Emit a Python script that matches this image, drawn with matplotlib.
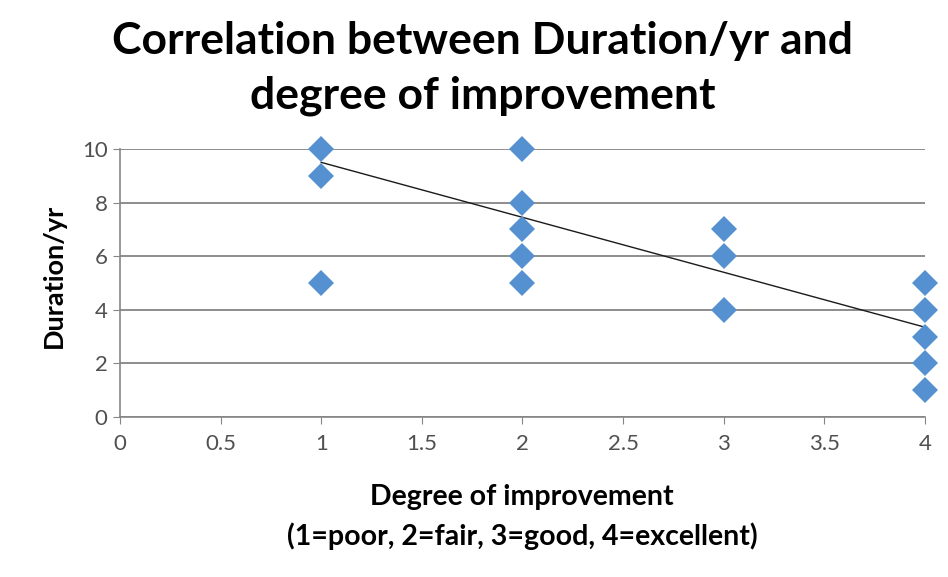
import matplotlib
matplotlib.use("Agg")
import matplotlib.pyplot as plt

# Data
degree = [1, 1, 1, 2, 2, 2, 2, 2, 3, 3, 3, 4, 4, 4, 4, 4]
duration = [10, 9, 5, 10, 8, 7, 6, 5, 7, 6, 4, 5, 4, 3, 2, 1]
trend_x = [1, 4]
trend_y = [9.5, 3.35]
x_ticks = [0, 0.5, 1, 1.5, 2, 2.5, 3, 3.5, 4]
x_tick_labels = ["0", "0.5", "1", "1.5", "2", "2.5", "3", "3.5", "4"]
y_ticks = [0, 2, 4, 6, 8, 10]

title = "Correlation between Duration/yr and\ndegree of improvement"
x_label = "Degree of improvement\n(1=poor, 2=fair, 3=good, 4=excellent)"
y_label = "Duration/yr"

plt.rcParams['font.family'] = ['Lato', 'DejaVu Sans']

fig = plt.figure(figsize=(9.48, 5.77), dpi=100)
ax = fig.add_axes([0.1266, 0.2773, 0.8491, 0.4645])

ax.set_xlim(0, 4)
ax.set_ylim(0, 10)
ax.set_xticks(x_ticks)
ax.set_xticklabels(x_tick_labels)
ax.set_yticks(y_ticks)

ax.grid(axis='y', color='#7a7a7a', linewidth=1.2)
ax.set_axisbelow(True)
for s in ['top', 'right']:
    ax.spines[s].set_visible(False)
for s in ['left', 'bottom']:
    ax.spines[s].set_color('#868686')
    ax.spines[s].set_linewidth(1.2)
ax.tick_params(axis='both', direction='out', length=5, color='#868686',
               labelsize=16, labelcolor='#505050')
ax.tick_params(axis='x', pad=7)
ax.tick_params(axis='y', pad=4)

ax.plot(trend_x, trend_y, color='#1a1a1a', linewidth=1.0, zorder=3)
ax.plot(degree, duration, linestyle='none', marker='D', markersize=13,
        color='#5590d0', markeredgewidth=0, zorder=4, clip_on=False)

fig.text(0.509, 0.881, title, ha='center', va='center', fontsize=32,
         fontweight='bold', linespacing=1.42, color='black')
fig.text(0.5507, 0.104, x_label, ha='center', va='center', fontsize=20.5,
         fontweight='bold', linespacing=1.53, color='black')
fig.text(0.057, 0.5217, y_label, ha='center', va='center', rotation=90,
         fontsize=19.5, fontweight='bold', color='black')

fig.savefig("out.png", dpi=100)
